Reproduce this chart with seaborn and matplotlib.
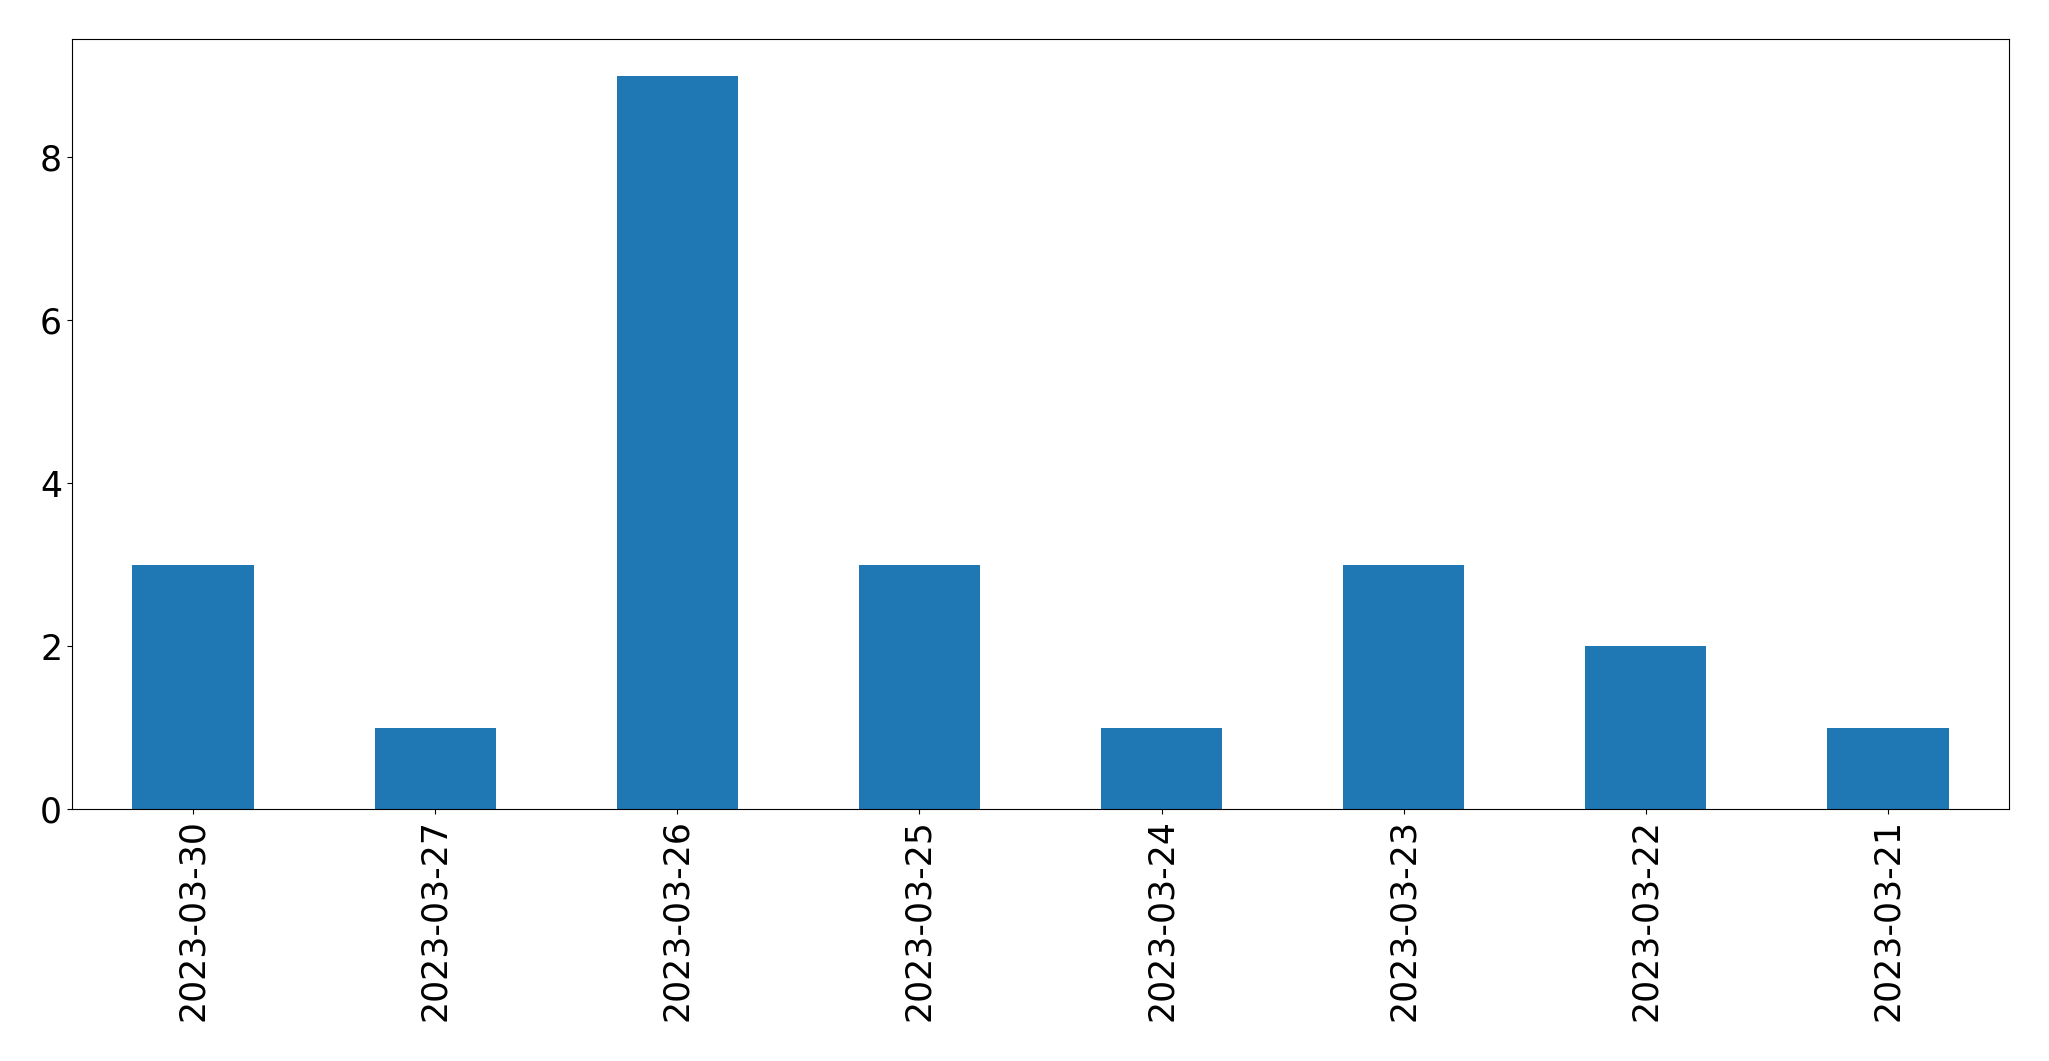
import pandas as pd
import seaborn as sns
import matplotlib.pyplot as plt

# Data
dates = ["2023-03-30", "2023-03-27", "2023-03-26", "2023-03-25",
         "2023-03-24", "2023-03-23", "2023-03-22", "2023-03-21"]
counts = [3, 1, 9, 3, 1, 3, 2, 1]

df = pd.DataFrame({"date": dates, "count": counts})

fig = plt.figure(figsize=(20.49, 10.61), dpi=100)
ax = fig.add_axes([0.0351, 0.2375, 0.9454, 0.7255])

sns.barplot(data=df, x="date", y="count", color="#1f77b4",
            saturation=1, width=0.5, ax=ax)

ax.set_xlim(-0.5, len(dates) - 0.5)
ax.set_ylim(0, max(counts) * 1.05)
ax.set_xlabel("")
ax.set_ylabel("")
ax.tick_params(axis="x", labelrotation=90, labelsize=25)
ax.tick_params(axis="y", labelsize=25)

fig.savefig("out.png", dpi=100)
